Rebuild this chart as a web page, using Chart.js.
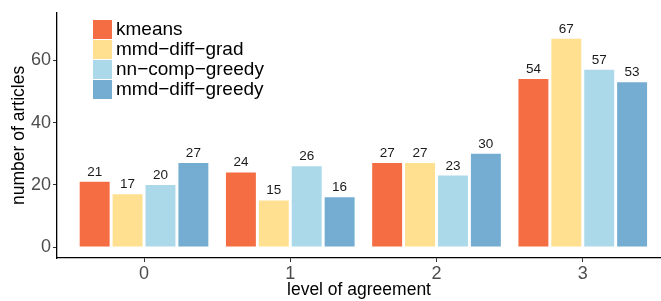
<!DOCTYPE html>
<html>
<head>
<meta charset="utf-8">
<script src="https://cdn.jsdelivr.net/npm/chart.js@4.4.1/dist/chart.umd.min.js"></script>
<style>
  html, body { margin: 0; padding: 0; background: #fff; }
  #wrap { width: 661px; height: 301px; }
</style>
</head>
<body>
<div id="wrap"><canvas id="myChart"></canvas></div>
<script>
const categories = [0, 1, 2, 3];
const xTickLabels = ['0', '1', '2', '3'];
const yTickValues = [0, 20, 40, 60];

const seriesNames = ['kmeans', 'mmd\u2212diff\u2212grad', 'nn\u2212comp\u2212greedy', 'mmd\u2212diff\u2212greedy'];
const kmeans = [21, 24, 27, 54];
const mmdDiffGrad = [17, 15, 27, 67];
const nnCompGreedy = [20, 26, 23, 57];
const mmdDiffGreedy = [27, 16, 30, 53];
const colors = ['#F46D43', '#FEE090', '#ABD9E9', '#74ADD1'];

const allSeries = [kmeans, mmdDiffGrad, nnCompGreedy, mmdDiffGreedy];

const font = "'Liberation Sans', Arial, sans-serif";

// numbers above each bar
const barLabels = {
    id: 'barLabels',
    afterDatasetsDraw(chart) {
        const ctx = chart.ctx;
        ctx.save();
        ctx.font = '13.5px ' + font;
        ctx.fillStyle = '#1a1a1a';
        ctx.textAlign = 'center';
        ctx.textBaseline = 'bottom';
        chart.data.datasets.forEach((ds, i) => {
            chart.getDatasetMeta(i).data.forEach((bar, j) => {
                ctx.fillText(String(ds.data[j].y), bar.x, bar.y - 3);
            });
        });
        ctx.restore();
    }
};

// legend drawn inside the panel, top left
const insideLegend = {
    id: 'insideLegend',
    afterDraw(chart) {
        const ctx = chart.ctx;
        ctx.save();
        ctx.font = '19px ' + font;
        ctx.textBaseline = 'middle';
        seriesNames.forEach((name, i) => {
            const y = 20 + i * 20;
            ctx.fillStyle = colors[i];
            ctx.fillRect(93, y, 19, 19);
            ctx.fillStyle = '#000';
            ctx.fillText(name, 116, y + 10);
        });
        ctx.restore();
    }
};

const ctx = document.getElementById('myChart').getContext('2d');
new Chart(ctx, {
    type: 'bar',
    data: {
        datasets: allSeries.map((vals, i) => ({
            label: seriesNames[i],
            data: categories.map((c, j) => ({ x: c, y: vals[j] })),
            backgroundColor: colors[i],
            borderWidth: 0,
            categoryPercentage: 0.9,
            barPercentage: 0.91
        }))
    },
    options: {
        responsive: true,
        maintainAspectRatio: false,
        animation: false,
        layout: { padding: { top: 11, right: 0, left: 0, bottom: 0 } },
        plugins: {
            legend: { display: false },
            tooltip: { enabled: false }
        },
        scales: {
            x: {
                type: 'linear',
                offset: false,
                min: -0.595,
                max: 3.535,
                afterBuildTicks: s => { s.ticks = categories.map(v => ({ value: v })); },
                afterFit: s => { s.height = 43; },
                grid: { offset: false, drawOnChartArea: false, drawTicks: true, tickLength: 4, tickColor: '#333' },
                border: { color: '#000', width: 1.3 },
                ticks: {
                    padding: 1,
                    color: '#4d4d4d',
                    font: { family: font, size: 18 },
                    callback: (v) => xTickLabels[categories.indexOf(v)]
                },
                title: {
                    display: true,
                    text: 'level of agreement',
                    color: '#000',
                    font: { family: font, size: 17.5 },
                    padding: { top: 0, bottom: 0 }
                }
            },
            y: {
                min: -3.5,
                max: 75.3,
                afterBuildTicks: s => { s.ticks = yTickValues.map(v => ({ value: v })); },
                afterFit: s => { s.width = 57; },
                grid: { drawOnChartArea: false, drawTicks: true, tickLength: 4, tickColor: '#333' },
                border: { color: '#000', width: 1.3 },
                ticks: {
                    padding: 2,
                    color: '#4d4d4d',
                    font: { family: font, size: 18 }
                },
                title: {
                    display: true,
                    text: 'number of articles',
                    color: '#000',
                    font: { family: font, size: 17.5 },
                    padding: { top: 9, bottom: 0 }
                }
            }
        }
    },
    plugins: [barLabels, insideLegend]
});
</script>
</body>
</html>
